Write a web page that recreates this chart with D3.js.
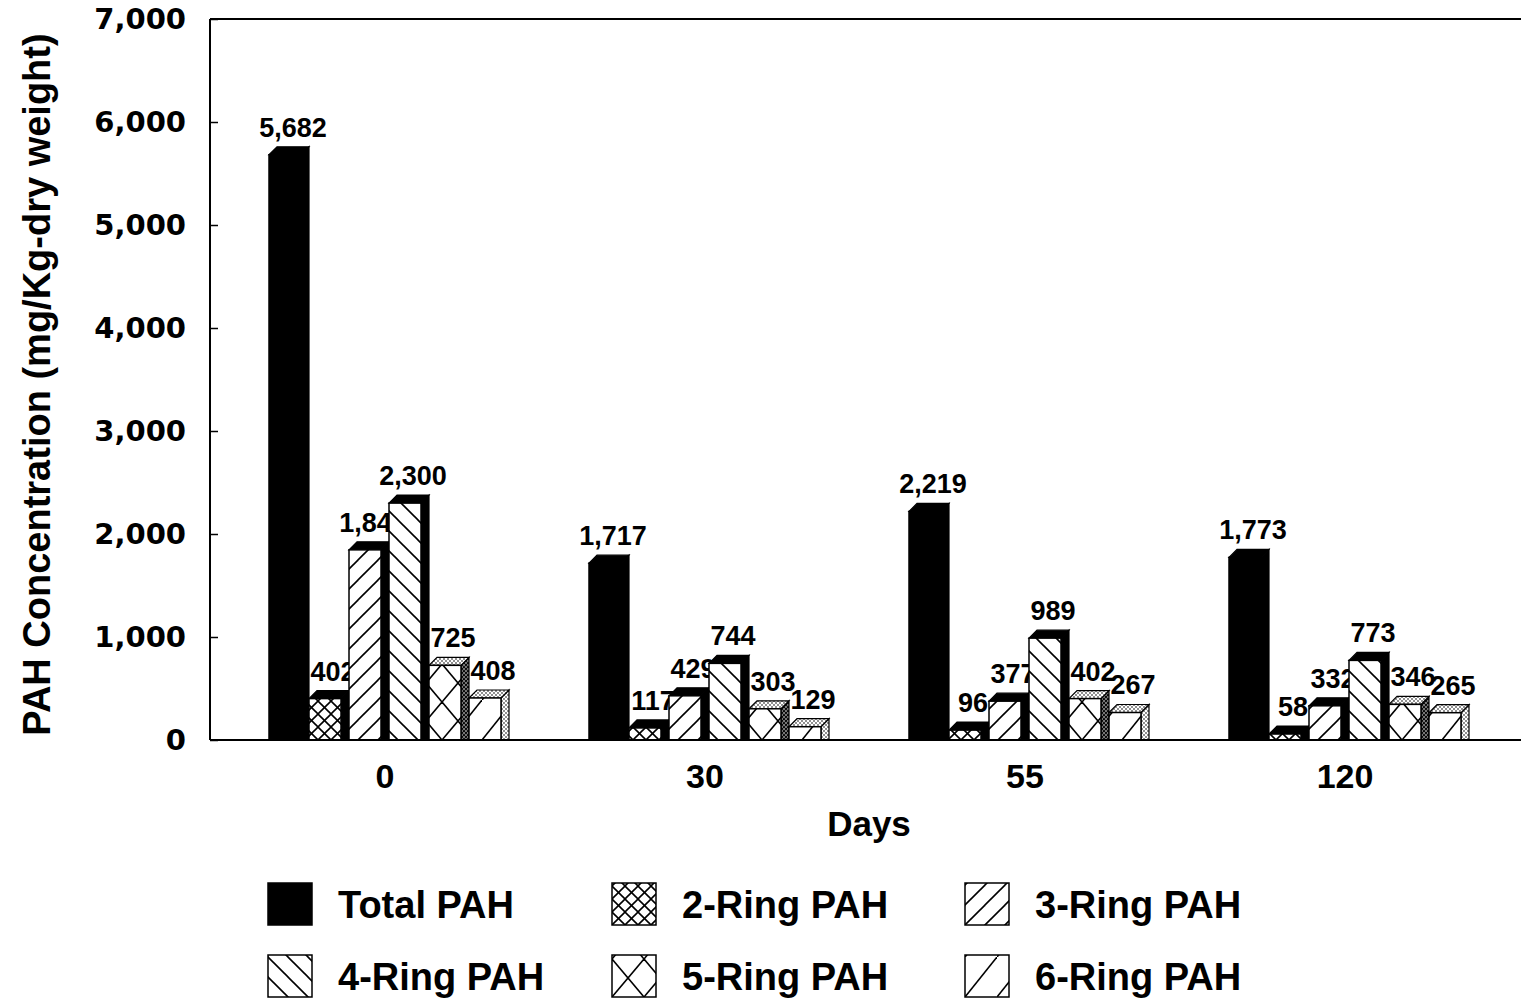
<!DOCTYPE html>
<html>
<head>
<meta charset="utf-8">
<script src="https://cdn.jsdelivr.net/npm/d3@7"></script>
<style>
  html, body { margin: 0; padding: 0; background: #fff; }
  svg { display: block; }
</style>
</head>
<body>
<svg id="chart" width="1521" height="1002"></svg>
<script>
// ---------- data ----------
const days = ["0", "30", "55", "120"];
const seriesNames = ["Total PAH", "2-Ring PAH", "3-Ring PAH", "4-Ring PAH", "5-Ring PAH", "6-Ring PAH"];
const totalPAH = [5682, 1717, 2219, 1773];
const ring2PAH = [402, 117, 96, 58];
const ring3PAH = [1846, 429, 377, 332];
const ring4PAH = [2300, 744, 989, 773];
const ring5PAH = [725, 303, 402, 346];
const ring6PAH = [408, 129, 267, 265];
const yTickValues = [0, 1000, 2000, 3000, 4000, 5000, 6000, 7000];
const seriesValues = [totalPAH, ring2PAH, ring3PAH, ring4PAH, ring5PAH, ring6PAH];

// ---------- layout ----------
const svg = d3.select("#chart");
const plotLeft = 210, plotRight = 1521, plotTop = 19, plotBottom = 740;
const depth = 8;
const fmt = d3.format(",");

const y = d3.scaleLinear().domain([0, 7000]).range([plotBottom, plotTop]);
const x0 = d3.scaleBand().domain(days).range([229, 1509]).padding(0);
const groupWidth = 240;
const x1 = d3.scaleBand().domain(d3.range(seriesNames.length)).range([0, groupWidth]).padding(0);
const frontW = x1.bandwidth() - depth;

const defs = svg.append("defs");

// pattern builders
function hatchPattern(id, kind, px, py) {
  const specs = {
    1: { w: 13, h: 13, lines: [[0,0,13,13],[13,0,0,13]] },
    2: { w: 20, h: 20, lines: [[0,20,20,0],[-3,3,3,-3],[17,23,23,17]] },
    3: { w: 20, h: 20, lines: [[0,0,20,20],[-3,17,3,23],[17,-3,23,3]] },
    4: { w: 32, h: 38, lines: [[0,0,32,38],[32,0,0,38]] },
    5: { w: 32, h: 40, lines: [[0,40,32,0]] }
  };
  const s = specs[kind];
  const p = defs.append("pattern")
    .attr("id", id)
    .attr("patternUnits", "userSpaceOnUse")
    .attr("x", px).attr("y", py)
    .attr("width", s.w).attr("height", s.h);
  p.append("rect").attr("width", s.w).attr("height", s.h).attr("fill", "#fff");
  s.lines.forEach(l => p.append("line")
    .attr("x1", l[0]).attr("y1", l[1]).attr("x2", l[2]).attr("y2", l[3])
    .attr("stroke", "#000").attr("stroke-width", 1.6));
}
function stipple(id, r, bg) {
  const p = defs.append("pattern").attr("id", id)
    .attr("patternUnits", "userSpaceOnUse").attr("width", 4).attr("height", 4);
  p.append("rect").attr("width", 4).attr("height", 4).attr("fill", bg);
  p.append("circle").attr("cx", 1).attr("cy", 1).attr("r", r).attr("fill", "#000");
  p.append("circle").attr("cx", 3).attr("cy", 3).attr("r", r).attr("fill", "#000");
}
stipple("stip", 0.8, "#fff");
stipple("stipDark", 1.1, "#777");

function frontFill(s, id) { return s === 0 ? "#000" : `url(#${id})`; }
function topFill(s) { return s <= 3 ? "#000" : "url(#stip)"; }
function sideFill(s) { return s <= 3 ? "#000" : (s === 4 ? "url(#stipDark)" : "url(#stip)"); }

// ---------- frame & axes ----------
svg.append("line").attr("x1", plotLeft).attr("x2", plotRight).attr("y1", plotTop).attr("y2", plotTop)
  .attr("stroke", "#000").attr("stroke-width", 2);
svg.append("line").attr("x1", plotLeft).attr("x2", plotLeft).attr("y1", plotTop).attr("y2", plotBottom)
  .attr("stroke", "#000").attr("stroke-width", 2);

const yAxis = svg.append("g").attr("transform", `translate(${plotLeft},0)`)
  .call(d3.axisRight(y).tickValues(yTickValues).tickSize(8).tickFormat(""));
yAxis.select(".domain").remove();
yAxis.selectAll(".tick line").attr("stroke-width", 1.5);

svg.append("g").selectAll("text").data(yTickValues).join("text")
  .attr("x", 186).attr("y", d => y(d)).attr("dy", "0.36em")
  .attr("text-anchor", "end")
  .attr("font-family", "DejaVu Sans, sans-serif").attr("font-weight", "bold")
  .attr("font-size", 29).text(d => fmt(d));

svg.append("text")
  .attr("transform", `translate(50,${(plotTop + plotBottom) / 2 + 5}) rotate(-90)`)
  .attr("text-anchor", "middle")
  .attr("font-family", "Liberation Sans, Arial, sans-serif").attr("font-weight", "bold")
  .attr("font-size", 38).text("PAH Concentration (mg/Kg-dry weight)");

// ---------- bars ----------
const groups = svg.append("g").selectAll("g").data(days).join("g")
  .attr("transform", d => `translate(${x0(d) + (x0.bandwidth() - groupWidth) / 2},0)`);

groups.each(function(day, gi) {
  const g = d3.select(this);
  const gx = x0(day) + (x0.bandwidth() - groupWidth) / 2;
  seriesValues.forEach((vals, s) => {
    const v = vals[gi];
    const bx = x1(s);
    const yt = y(v), yb = y(0);
    const pid = `p-${s}-${gi}`;
    if (s > 0) hatchPattern(pid, s, gx + bx, yb);
    // side
    g.append("path")
      .attr("d", `M${bx + frontW},${yt} L${bx + frontW + depth},${yt - depth} L${bx + frontW + depth},${yb} L${bx + frontW},${yb} Z`)
      .attr("fill", sideFill(s)).attr("stroke", "#000").attr("stroke-width", 1.2);
    // top
    g.append("path")
      .attr("d", `M${bx},${yt} L${bx + depth},${yt - depth} L${bx + frontW + depth},${yt - depth} L${bx + frontW},${yt} Z`)
      .attr("fill", topFill(s)).attr("stroke", "#000").attr("stroke-width", 1.2);
    // front
    g.append("rect")
      .attr("x", bx).attr("y", yt).attr("width", frontW).attr("height", yb - yt)
      .attr("fill", frontFill(s, pid)).attr("stroke", "#000").attr("stroke-width", 1.5);
    // value label
    g.append("text")
      .attr("x", bx + (frontW + depth) / 2 + 4).attr("y", yt - depth - 10)
      .attr("text-anchor", "middle")
      .attr("font-family", "Liberation Sans, Arial, sans-serif").attr("font-weight", "bold")
      .attr("font-size", 27).text(fmt(v));
  });
});

// x axis baseline (drawn over bars)
const xAxis = svg.append("g").attr("transform", `translate(0,${plotBottom})`)
  .call(d3.axisBottom(x0).tickSize(0).tickPadding(24));
xAxis.select(".domain").remove();
svg.append("line").attr("x1", plotLeft).attr("x2", plotRight).attr("y1", plotBottom).attr("y2", plotBottom)
  .attr("stroke", "#000").attr("stroke-width", 2);
xAxis.selectAll(".tick text")
  .attr("dx", -4)
  .attr("font-family", "Liberation Sans, Arial, sans-serif").attr("font-weight", "bold")
  .attr("font-size", 34).attr("fill", "#000");

svg.append("text").attr("x", 869).attr("y", 836).attr("text-anchor", "middle")
  .attr("font-family", "Liberation Sans, Arial, sans-serif").attr("font-weight", "bold")
  .attr("font-size", 35).text("Days");

// ---------- legend ----------
const legCols = [268, 612, 965];
const legRows = [883, 955];
const legend = svg.append("g");
seriesNames.forEach((name, s) => {
  const lx = legCols[s % 3], ly = legRows[Math.floor(s / 3)];
  const lid = `leg-${s}`;
  if (s > 0) hatchPattern(lid, s, lx, ly + 42);
  legend.append("rect").attr("x", lx).attr("y", ly).attr("width", 44).attr("height", 42)
    .attr("fill", s === 0 ? "#000" : `url(#${lid})`).attr("stroke", "#000").attr("stroke-width", 1.5);
  legend.append("text").attr("x", lx + 70).attr("y", ly + 35)
    .attr("font-family", "Liberation Sans, Arial, sans-serif").attr("font-weight", "bold")
    .attr("font-size", 38).text(name);
});
</script>
</body>
</html>
